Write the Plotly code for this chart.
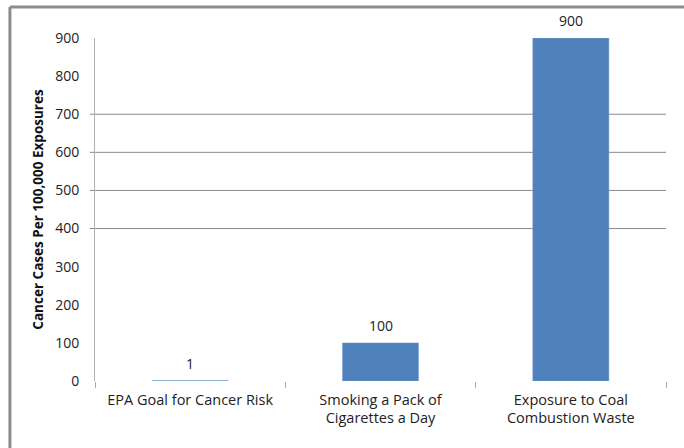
import plotly.graph_objects as go

categories = ["EPA Goal for Cancer Risk", "Smoking a Pack of<br>Cigarettes a Day",
              "Exposure to Coal<br>Combustion Waste"]
values = [1, 100, 900]
value_labels = ["1", "100", "900"]
y_ticks = [0, 100, 200, 300, 400, 500, 600, 700, 800, 900]
grid_levels = [400, 500, 600, 700]
y_title = "<b>Cancer Cases Per 100,000 Exposures</b>"

FONT = "Open Sans, Liberation Sans, sans-serif"

fig = go.Figure()
fig.add_trace(go.Bar(
    x=categories, y=values,
    marker=dict(color="#4F81BD", line=dict(color="#7FA3D0", width=0.5)),
))

for c, v, t in zip(categories, values, value_labels):
    fig.add_annotation(x=c, y=v, text=t, showarrow=False, yanchor="bottom", yshift=6,
                       font=dict(size=14, color="#222", family=FONT))

shapes = []
for g in grid_levels:
    shapes.append(dict(type="line", xref="paper", yref="y", x0=-0.009, x1=1.0, y0=g, y1=g,
                       line=dict(color="#8a8a8a", width=1), layer="below"))
# outer frame (top and left edges)
shapes.append(dict(type="line", xref="paper", yref="paper", x0=-0.149, x1=1.04,
                   y0=1.0904, y1=1.0904, line=dict(color="#8c8c8c", width=3)))
shapes.append(dict(type="line", xref="paper", yref="paper", x0=-0.149, x1=-0.149,
                   y0=1.0904, y1=-0.21, line=dict(color="#8c8c8c", width=3)))

fig.update_layout(
    width=684, height=448,
    margin=dict(l=95, r=18, t=38, b=67),
    paper_bgcolor="white", plot_bgcolor="white",
    showlegend=False, bargap=0.6,
    font=dict(family=FONT, size=13, color="#222"),
    shapes=shapes,
    xaxis=dict(showline=False, showgrid=False, ticks="outside", tickson="boundaries",
               ticklen=6, tickcolor="#aaa", ticklabelstandoff=8,
               tickfont=dict(size=14.5, color="#222")),
    yaxis=dict(range=[0, 900], tickvals=y_ticks, showgrid=False, zeroline=False,
               showline=True, linecolor="#b0b0b0", linewidth=1, ticks="",
               ticklabelstandoff=12,
               tickfont=dict(size=14, color="#222"),
               title=dict(text=y_title, font=dict(size=13.5, color="#111"), standoff=8)),
)

fig.write_html("out.html")
